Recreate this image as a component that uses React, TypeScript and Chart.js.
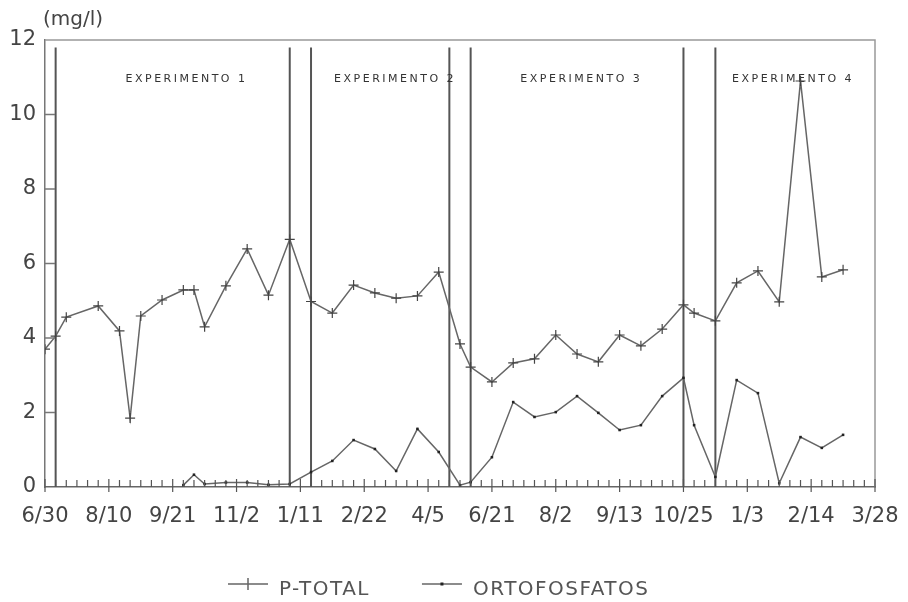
import React, { useEffect, useRef } from 'react';
import { Chart, registerables } from 'chart.js';

Chart.register(...registerables);

// ---- Data ----
const xLabels = ['6/30', '8/10', '9/21', '11/2', '1/11', '2/22', '4/5', '6/21', '8/2', '9/13', '10/25', '1/3', '2/14', '3/28'];
const weeksPerLabel = 6;
const yTickValues = [0, 2, 4, 6, 8, 10, 12];

const pTotalWeeks = [0, 1, 2, 5, 7, 8, 9, 11, 13, 14, 15, 17, 19, 21, 23, 25, 27, 29, 31, 33, 35, 37, 39, 40, 42, 44, 46, 48, 50, 52, 54, 56, 58, 60, 61, 63, 65, 67, 69, 71, 73, 75];
const pTotalValues = [3.7, 4.05, 4.56, 4.86, 4.19, 1.85, 4.59, 5.02, 5.29, 5.29, 4.3, 5.4, 6.39, 5.15, 6.65, 4.98, 4.67, 5.42, 5.21, 5.07, 5.13, 5.77, 3.84, 3.22, 2.82, 3.33, 3.44, 4.08, 3.57, 3.36, 4.08, 3.79, 4.24, 4.89, 4.67, 4.46, 5.48, 5.8, 4.97, 10.9, 5.64, 5.83];

const orthoWeeks = [13, 14, 15, 17, 19, 21, 23, 25, 27, 29, 31, 33, 35, 37, 39, 40, 42, 44, 46, 48, 50, 52, 54, 56, 58, 60, 61, 63, 65, 67, 69, 71, 73, 75];
const orthoValues = [0.05, 0.33, 0.08, 0.12, 0.12, 0.06, 0.08, 0.4, 0.7, 1.26, 1.02, 0.43, 1.56, 0.94, 0.05, 0.13, 0.8, 2.28, 1.88, 2.01, 2.44, 1.99, 1.53, 1.66, 2.44, 2.93, 1.66, 0.27, 2.87, 2.52, 0.1, 1.34, 1.05, 1.4];

const experimentBoundaries = [1, 23, 25, 38, 40, 60, 63];
const boundaryTop = 11.8;
const experimentNames = ['EXPERIMENTO 1', 'EXPERIMENTO 2', 'EXPERIMENTO 3', 'EXPERIMENTO 4'];
const experimentCenters = [13.3, 32.9, 50.4, 70.3];
const experimentLabelY = 10.95;

const seriesNames = ['P-TOTAL', 'ORTOFOSFATOS'];
const unitLabel = '(mg/l)';

const FONT = '"DejaVu Sans", sans-serif';
const LINE_COLOR = '#666';

const decorPlugin = {
  id: 'decor',
  beforeDatasetsDraw(chart: any) {
    const { ctx, chartArea: a, scales } = chart;
    const x = scales.x, y = scales.y;
    ctx.save();
    // top & right frame
    ctx.strokeStyle = '#999';
    ctx.lineWidth = 1.5;
    ctx.beginPath();
    ctx.moveTo(a.left, a.top);
    ctx.lineTo(a.right, a.top);
    ctx.lineTo(a.right, a.bottom);
    ctx.stroke();
    // experiment boundaries
    ctx.strokeStyle = '#555';
    ctx.lineWidth = 2;
    experimentBoundaries.forEach((w) => {
      const px = x.getPixelForValue(w);
      ctx.beginPath();
      ctx.moveTo(px, y.getPixelForValue(boundaryTop));
      ctx.lineTo(px, y.getPixelForValue(0));
      ctx.stroke();
    });
    // experiment labels
    ctx.font = '11px ' + FONT;
    (ctx as any).letterSpacing = '2.5px';
    ctx.fillStyle = '#333';
    ctx.textAlign = 'center';
    ctx.textBaseline = 'middle';
    experimentNames.forEach((n, i) => {
      ctx.fillText(n, x.getPixelForValue(experimentCenters[i]), y.getPixelForValue(experimentLabelY));
    });
    ctx.restore();
  },
  afterDraw(chart: any) {
    const { ctx, chartArea: a, scales } = chart;
    const x = scales.x, y = scales.y;
    ctx.save();
    // x ticks (weekly minor, labelled major)
    const y0 = y.getPixelForValue(0);
    ctx.strokeStyle = '#555';
    ctx.lineWidth = 1.2;
    const maxW = weeksPerLabel * (xLabels.length - 1);
    for (let w = 0; w <= maxW; w++) {
      const px = x.getPixelForValue(w);
      ctx.beginPath();
      if (w % weeksPerLabel === 0) {
        ctx.moveTo(px, y0 - 8);
        ctx.lineTo(px, y0 + 5);
      } else {
        ctx.moveTo(px, y0 - 7);
        ctx.lineTo(px, y0);
      }
      ctx.stroke();
    }
    // y inner ticks
    ctx.strokeStyle = '#777';
    ctx.lineWidth = 1.5;
    yTickValues.forEach((v) => {
      if (v === 0 || v === 12) return;
      const py = y.getPixelForValue(v);
      ctx.beginPath();
      ctx.moveTo(a.left, py);
      ctx.lineTo(a.left + 10, py);
      ctx.stroke();
    });
    // unit label
    ctx.font = '20px ' + FONT;
    ctx.fillStyle = '#444';
    ctx.textAlign = 'left';
    ctx.textBaseline = 'middle';
    ctx.fillText(unitLabel, a.left - 2, a.top - 20);

    // legend
    const ds = chart.data.datasets;
    ctx.font = '20px ' + FONT;
    (ctx as any).letterSpacing = '1.5px';
    const w1 = ctx.measureText(seriesNames[0]).width;
    const markW = 40;
    const gapText = 11;
    const gapItem = 52;
    let lx = chart.width / 2 - 226;
    const ly = 584;
    const ty = 595;
    // item 1
    ctx.strokeStyle = ds[0].borderColor;
    ctx.lineWidth = 1.5;
    ctx.beginPath();
    ctx.moveTo(lx, ly);
    ctx.lineTo(lx + markW, ly);
    ctx.moveTo(lx + markW / 2, ly - 6);
    ctx.lineTo(lx + markW / 2, ly + 6);
    ctx.stroke();
    ctx.fillStyle = '#555';
    ctx.textBaseline = 'alphabetic';
    ctx.fillText(seriesNames[0], lx + markW + gapText, ty);
    lx += markW + gapText + w1 + gapItem;
    // item 2
    ctx.strokeStyle = ds[1].borderColor;
    ctx.beginPath();
    ctx.moveTo(lx, ly);
    ctx.lineTo(lx + markW, ly);
    ctx.stroke();
    ctx.fillStyle = '#222';
    ctx.fillRect(lx + markW / 2 - 1.5, ly - 1.5, 3, 3);
    ctx.fillStyle = '#555';
    ctx.fillText(seriesNames[1], lx + markW + gapText, ty);
    ctx.restore();
  },
};

export default function App() {
  const canvasRef = useRef<HTMLCanvasElement | null>(null);

  useEffect(() => {
    if (!canvasRef.current) return;
    Chart.defaults.font.family = FONT;
    const chart = new Chart(canvasRef.current, {
      type: 'line',
      data: {
        datasets: [
          {
            label: seriesNames[0],
            data: pTotalWeeks.map((w, i) => ({ x: w, y: pTotalValues[i] })),
            borderColor: LINE_COLOR,
            borderWidth: 1.5,
            pointStyle: 'cross',
            pointRadius: 5,
            pointBorderColor: '#444',
            pointBorderWidth: 1.2,
            tension: 0,
            fill: false,
          },
          {
            label: seriesNames[1],
            data: orthoWeeks.map((w, i) => ({ x: w, y: orthoValues[i] })),
            borderColor: LINE_COLOR,
            borderWidth: 1.5,
            pointStyle: 'rect',
            pointRadius: 1.8,
            pointBackgroundColor: '#222',
            pointBorderColor: '#222',
            pointBorderWidth: 0,
            tension: 0,
            fill: false,
          },
        ],
      },
      options: {
        animation: false,
        responsive: true,
        maintainAspectRatio: false,
        layout: { padding: { left: 0, top: 40, right: 33, bottom: 0 } },
        plugins: {
          legend: { display: false },
          tooltip: { enabled: false },
        },
        scales: {
          x: {
            type: 'linear',
            min: 0,
            max: weeksPerLabel * (xLabels.length - 1),
            afterBuildTicks: (s: any) => {
              s.ticks = xLabels.map((_, i) => ({ value: i * weeksPerLabel }));
            },
            afterFit: (s: any) => {
              s.height = 115;
              s.paddingLeft = 0;
              s.paddingRight = 0;
            },
            ticks: {
              autoSkip: false,
              maxRotation: 0,
              callback: (v: any) => xLabels[Math.round(Number(v) / weeksPerLabel)],
              font: { size: 21, family: FONT },
              color: '#444',
              padding: 17,
            },
            grid: { display: false, drawTicks: false },
            border: { display: true, color: '#666', width: 1.5 },
          },
          y: {
            min: 0,
            max: 12,
            afterBuildTicks: (s: any) => {
              s.ticks = yTickValues.map((v) => ({ value: v }));
            },
            afterFit: (s: any) => {
              s.width = 45;
              s.paddingTop = 0;
              s.paddingBottom = 0;
            },
            ticks: {
              font: { size: 21, family: FONT },
              color: '#444',
              padding: 9,
            },
            grid: { display: false, drawTicks: false },
            border: { display: true, color: '#777', width: 1.5 },
          },
        },
      },
      plugins: [decorPlugin],
    });
    return () => chart.destroy();
  }, []);

  return (
    <div style={{ position: 'fixed', left: 0, top: 0, width: 908, height: 602, background: '#fff' }}>
      <canvas ref={canvasRef} style={{ display: 'block' }} />
    </div>
  );
}
